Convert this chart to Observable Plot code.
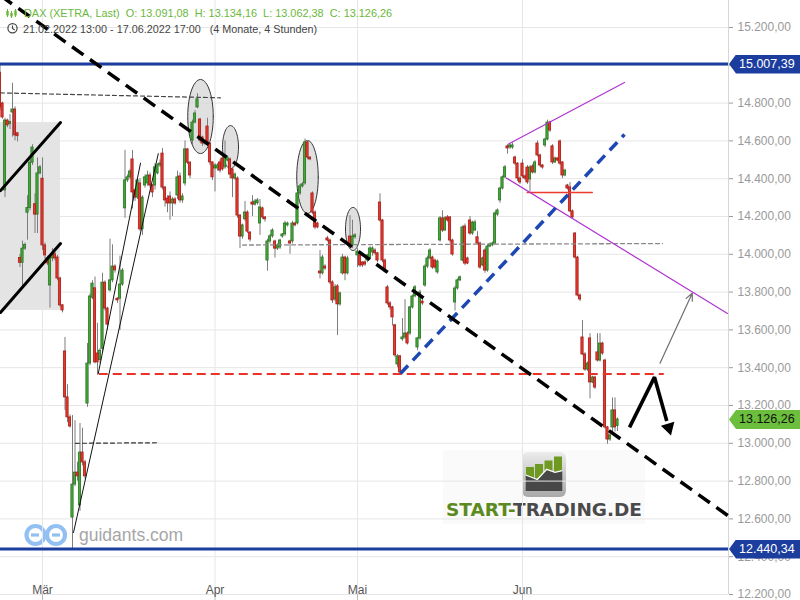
<!DOCTYPE html>
<html>
<head>
<meta charset="utf-8">
<script src="https://cdn.jsdelivr.net/npm/d3@7"></script>
<script src="https://cdn.jsdelivr.net/npm/@observablehq/plot@0.6"></script>
<style>
html,body{margin:0;padding:0;background:#fff;}
#wrap{position:relative;width:800px;height:600px;overflow:hidden;background:#fff;font-family:"Liberation Sans",Arial,sans-serif;}
#under{position:absolute;left:0;top:0;z-index:0;}
#chart{position:absolute;left:0;top:0;z-index:1;}
#icons{position:absolute;left:0;top:0;z-index:2;}
.over{position:absolute;z-index:2;white-space:pre;line-height:14px;}
.tag{position:absolute;z-index:3;left:729px;width:71px;height:19px;line-height:19px;font-size:12.5px;padding-left:10px;box-sizing:border-box;clip-path:polygon(0 50%,7px 0,100% 0,100% 100%,7px 100%);}
</style>
</head>
<body>
<div id="wrap">
<svg id="under" width="800" height="600">
  <defs>
    <linearGradient id="ig" x1="0" y1="0" x2="0" y2="1">
      <stop offset="0" stop-color="#ececec"/><stop offset="1" stop-color="#a9a9a9"/>
    </linearGradient>
  </defs>
  <rect x="443" y="450" width="202" height="74" fill="#fafafa"/>
  <rect x="522" y="452" width="44" height="45" rx="6" fill="url(#ig)"/>
  <rect x="526" y="467" width="8" height="24" fill="#6e9a22"/>
  <rect x="535" y="464" width="8" height="27" fill="#6e9a22"/>
  <rect x="544.5" y="460.5" width="8" height="30.5" fill="#6e9a22"/>
  <rect x="554" y="456.5" width="8" height="34.5" fill="#6e9a22"/>
  <polygon points="525.7,475 537.3,479.5 546.7,469.3 555,472.3 562.3,470.7 562.3,491 525.7,491" fill="#474747"/>
  <polyline points="525.7,475 537.3,479.5 546.7,469.3 555,472.3 562.3,470.7" fill="none" stroke="#fff" stroke-width="1.3"/>
  <text x="446" y="516" font-family="DejaVu Sans" font-weight="bold" font-size="17" textLength="196" lengthAdjust="spacingAndGlyphs"><tspan fill="#5c8a1f">START-</tspan><tspan fill="#4a4a4a">TRADING.DE</tspan></text>
  <g fill="none" stroke="#92c0f2" stroke-width="4.2">
    <circle cx="35.5" cy="535" r="9"/>
    <circle cx="56" cy="535" r="9"/>
  </g>
  <g stroke="#92c0f2" stroke-width="3.2">
    <line x1="31" y1="535" x2="39" y2="535"/>
    <line x1="52" y1="535" x2="60" y2="535"/>
  </g>
  <text x="79" y="541" font-family="Liberation Sans" font-size="17.5" fill="#a6a6a6">guidants.com</text>
</svg>
<div id="chart"></div>
<svg id="icons" width="60" height="40">
  <g fill="#6ab83a" stroke="#6ab83a">
    <line x1="7.5" y1="9" x2="7.5" y2="17" stroke-width="1"/>
    <rect x="6.3" y="11" width="2.4" height="4.5" stroke="none"/>
    <line x1="11.5" y1="11" x2="11.5" y2="18" stroke-width="1"/>
    <rect x="10.3" y="13" width="2.4" height="3.5" stroke="none"/>
    <line x1="15.5" y1="9" x2="15.5" y2="17" stroke-width="1"/>
    <rect x="14.3" y="10.5" width="2.4" height="5" stroke="none"/>
  </g>
  <circle cx="12.5" cy="28.3" r="4.6" fill="none" stroke="#444" stroke-width="1.2"/>
  <polyline points="12.5,25.5 12.5,28.5 14.8,30" fill="none" stroke="#444" stroke-width="1.1"/>
</svg>
<div class="over" id="h1" style="left:24px;top:6px;font-size:10.9px;color:#6ab83a;"></div>
<div class="over" id="h2" style="left:23px;top:21.5px;font-size:10.8px;color:#444;">21.02.2022 13:00 - 17.06.2022 17:00   (4 Monate, 4 Stunden)</div>
<div class="tag" id="tagTop" style="top:54.5px;background:#1b3d9d;color:#fff;"></div>
<div class="tag" id="tagLast" style="top:410px;background:#6cbf3c;color:#111;"></div>
<div class="tag" id="tagBot" style="top:539.5px;background:#1b3d9d;color:#fff;"></div>
</div>
<script>
// ---- 4h candles (XETRA), 21.02.2022 13:00 – 17.06.2022 17:00, bar index = position ----
const opens = [
14961,14798,14338,14708,14690,14750,14766,14640,13980,13955,14030,14220,
14245,14485,14265,14210,14428,14400,14047,13978,13835,13978,14000,13983,
13872,13730,13486,13243,13137,12607,12782,12845,12671,12951,12899,13210,
13422,13770,13820,13475,13440,13500,13850,13713,13809,13862,13935,13765,
13765,13840,14243,14391,14407,14502,14338,14300,14375,14132,14364,14375,
14417,14364,14364,14428,14470,14533,14353,14295,14306,14269,14290,14311,
14412,14285,14375,14555,14485,14602,14697,14777,14713,14618,14586,14676,
14586,14486,14454,14454,14486,14507,14460,14496,14502,14449,14401,14401,
14205,14094,14185,14221,14115,14274,14263,14270,14163,14243,14195,13967,
14068,14095,14068,14030,14036,14094,14105,14153,14068,14068,14163,14163,
14322,14359,14375,14592,14512,14322,14221,14163,13909,13899,13935,14084,
14073,13851,13761,13830,13735,13899,13983,13899,14094,14047,14090,13994,
13994,13957,13957,13967,13978,14010,14020,14005,14274,14179,13967,13825,
13740,13719,13624,13417,13460,13550,13560,13581,13581,13719,13777,13507,
13555,13750,13835,13935,13978,13983,13967,13904,14073,14190,14126,14195,
14195,14073,13745,13819,13862,13967,14147,13978,14179,14110,14126,14090,
14057,13941,14020,13914,14041,14047,14057,14210,14285,14348,14407,14571,
14565,14565,14512,14480,14401,14480,14412,14459,14396,14464,14433,14586,
14523,14470,14576,14607,14697,14571,14486,14507,14597,14486,14417,14364,
14354,14227,14110,13983,13782,13560,13470,13390,13555,13322,13348,13481,
13438,13528,13438,13084,13020,13084,13174,13091.08];
const highs = [
15000,14805,14720,14715,14740,14905,14780,14645,14000,14070,14060,14310,
14510,14580,14320,14510,14470,14510,14060,13990,13990,14030,14010,13995,
13880,13735,13560,13310,13150,13147,13120,12900,13105,13080,12910,13528,
13790,13860,13880,13635,13500,13900,13860,13720,14080,14050,13945,13770,
13990,13925,14550,14420,14450,14549,14345,14400,14400,14310,14420,14440,
14430,14370,14480,14480,14500,14560,14360,14310,14330,14300,14300,14440,
14430,14320,14600,14560,14490,14710,14760,14850,14720,14625,14605,14720,
14590,14490,14480,14480,14500,14520,14600,14520,14510,14460,14430,14410,
14210,14160,14280,14230,14120,14310,14290,14295,14290,14250,14200,14080,
14105,14135,14075,14055,14080,14110,14175,14170,14075,14175,14170,14330,
14370,14380,14610,14600,14515,14330,14230,14170,14020,13995,13945,14095,
14080,13860,13840,13840,13800,14000,13990,13990,14205,14180,14110,14030,
14000,13960,13965,14000,14040,14040,14030,14010,14320,14185,13975,13835,
13750,13725,13630,13470,13465,13660,13760,13590,13725,13785,13835,13560,
13810,13760,13945,13990,14030,13990,13975,13970,14200,14230,14200,14205,
14200,14080,13830,13870,13885,14150,14160,13985,14200,14175,14180,14120,
14065,13985,14030,14050,14060,14065,14225,14240,14355,14415,14470,14580,
14585,14590,14520,14485,14410,14500,14420,14470,14470,14475,14495,14600,
14530,14475,14615,14710,14705,14580,14515,14510,14605,14490,14450,14370,
14380,14235,14115,13990,13790,13650,13480,13430,13580,13355,13355,13580,
13580,13535,13445,13090,13050,13240,13240,13134.16];
const lows = [
14760,14715,14300,14670,14660,14620,14600,14595,13930,13820,14020,14075,
14230,14470,14110,14110,14420,14020,13970,13940,13715,13960,13965,13860,
13720,13690,13174,13110,13080,12440,12770,12800,12640,12880,12810,13190,
13410,13760,13420,13360,13420,13480,13700,13600,13800,13850,13900,13740,
13597,13830,14190,14380,14395,14240,14280,14290,14120,14100,14350,14360,
14350,14300,14340,14420,14460,14340,14250,14220,14180,14200,14260,14290,
14270,14270,14360,14475,14400,14580,14690,14770,14590,14570,14575,14570,
14470,14390,14330,14440,14430,14440,14450,14490,14400,14300,14390,14190,
14030,14080,14175,14110,14065,14200,14255,14260,14100,14185,14170,13910,
14055,14085,13980,14020,14025,14085,14095,14145,14000,14055,14145,14155,
14310,14350,14365,14500,14495,14210,14130,14135,13870,13890,13915,14065,
13840,13740,13750,13570,13725,13890,13860,13890,14040,14030,14080,13930,
13930,13930,13935,13955,13970,13990,13995,13955,14170,13955,13900,13730,
13705,13620,13455,13400,13370,13540,13550,13520,13570,13710,13770,13490,
13545,13730,13825,13925,13970,13920,13920,13895,14065,14115,14120,14170,
14060,13990,13700,13810,13855,13960,13940,13945,14100,14100,14120,14050,
13920,13935,13900,13905,14035,14040,14050,14200,14270,14340,14400,14530,
14555,14555,14470,14385,14370,14400,14390,14370,14330,14425,14425,14515,
14460,14450,14565,14600,14645,14475,14480,14490,14470,14400,14410,14340,
14220,14185,13975,13775,13750,13465,13380,13380,13235,13315,13285,13430,
13430,13465,13075,12995,13010,13050,13060,13062.38];
const closes = [
14777,14724,14708,14682,14700,14766,14629,14625,13955,14030,14050,14245,
14485,14565,14210,14428,14460,14047,13994,13952,13978,14000,13978,13872,
13730,13703,13243,13137,13089,12782,12845,12825,12951,12899,12825,13422,
13777,13845,13428,13428,13490,13850,13713,13628,13862,13935,13915,13756,
13840,13914,14391,14407,14438,14327,14300,14391,14132,14300,14407,14417,
14364,14327,14460,14470,14480,14353,14285,14269,14269,14290,14269,14407,
14285,14306,14555,14485,14417,14697,14745,14820,14602,14586,14597,14586,
14486,14407,14470,14470,14443,14449,14512,14512,14422,14401,14422,14205,
14094,14153,14221,14120,14078,14263,14279,14285,14248,14195,14185,14068,
14095,14126,14030,14047,14073,14105,14163,14163,14057,14163,14153,14322,
14359,14370,14592,14512,14502,14221,14142,14142,13899,13983,13925,14073,
13851,13756,13825,13735,13793,13983,13899,13978,14047,14094,14100,14015,
13941,13941,13946,13994,14031,14031,14005,13967,14179,13967,13909,13740,
13719,13666,13465,13460,13375,13560,13581,13528,13719,13777,13825,13555,
13798,13740,13935,13978,14020,13930,13930,13962,14190,14126,14190,14179,
14073,13999,13819,13862,13878,14142,13951,13951,14110,14168,14168,14057,
13930,13978,13914,14041,14052,14057,14216,14232,14348,14407,14460,14560,
14576,14576,14480,14401,14380,14412,14401,14380,14459,14433,14486,14523,
14470,14459,14607,14697,14655,14486,14507,14496,14480,14417,14443,14348,
14227,14195,13983,13782,13761,13470,13390,13422,13322,13348,13295,13438,
13528,13475,13084,13020,13042,13174,13084,13126.26];

// axis ticks
const priceTicks = d3.range(12200, 15201, 200);
const hiddenTick = 15000; // covered by the 15.007,39 marker
const monthIdx = [17, 86, 143, 209];
const monthLabels = ["Mär", "Apr", "Mai", "Jun"];

// horizontal levels
const blueLevels = [15007.39, 12440.34];

// drawings: [bar index, price]
const downTrend  = [[0.2, 15369], [291.4, 12615]];
const topDotted  = [[0.2, 14854], [88.2, 14828]];
const midDotted  = [[97, 14049], [265, 14057]];
const lowDotted  = [[30.2, 13000], [63.5, 13003]];
const redSupport = [[39.5, 13367], [265.5, 13367]];
const redShort   = [[210.9, 14327], [236.9, 14327]];
const blueUp     = [[160.2, 13369], [249.8, 14634]];
const thinLong   = [[29.4, 12528], [63.3, 14532]];
const thinShort  = [[39.3, 13369], [56.2, 14482]];
const channelTop = [[0.2, 14337], [24.2, 14697]];
const channelBot = [[0.2, 13692], [24.2, 14057]];
const shadeBox   = [[0.2, 24.2], [13703, 14697]];
const purpleTop  = [[203.4, 14584], [249.8, 14909]];
const purpleBot  = [[202.6, 14403], [291, 13687]];
const grayArrow  = [[264, 13424], [276.9, 13794]];
const zigzag     = [[251.8, 13084], [261.8, 13350], [266.7, 13118]];
const arrowHead  = [[267.5, 13083]];
// ellipses: centre index, centre price, radius in bars, radius in points
const ellCx = [80.2, 92.2, 123, 141.2];
const ellCy = [14729, 14567, 14409, 14134];
const ellRx = [5.1, 3.2, 4.3, 3.0];
const ellRy = [196, 114, 193, 114];

const loc = d3.formatLocale({decimal: ",", thousands: ".", grouping: [3], currency: ["", ""]});
const fmtDE = loc.format(",.2f");

const candles = opens.map((o, i) => ({i, o, h: highs[i], l: lows[i], c: closes[i]}));
const ups = candles.filter(d => d.c >= d.o);
const downs = candles.filter(d => d.c < d.o);

const ellPts = [];
ellCx.forEach((cx, k) => {
  for (let t = 0; t <= 60; t++) {
    const a = 2 * Math.PI * t / 60;
    ellPts.push({k, x: cx + ellRx[k] * Math.cos(a), y: ellCy[k] + ellRy[k] * Math.sin(a)});
  }
});

const P = d => d[0], Q = d => d[1];
const seg = (data, opts) => Plot.line(data, {x: P, y: Q, ...opts});

const chart = Plot.plot({
  width: 800, height: 600,
  marginLeft: 0, marginRight: 72, marginTop: 0, marginBottom: 6,
  style: {background: "transparent", fontFamily: "'Liberation Sans', Arial, sans-serif"},
  x: {type: "linear", domain: [0.2, 291.4], axis: null},
  y: {type: "linear", domain: [12200, 15342.86], axis: null},
  marks: [
    Plot.gridY(priceTicks, {stroke: "#e6e6e6", strokeOpacity: 1}),
    Plot.gridX(monthIdx, {stroke: "#e6e6e6", strokeOpacity: 1}),
    Plot.ruleX([291.4], {stroke: "#d6d6d6"}),
    Plot.rect([shadeBox], {x1: d => d[0][0], x2: d => d[0][1], y1: d => d[1][0], y2: d => d[1][1], fill: "#e4e4e4"}),
    Plot.line(ellPts, {x: "x", y: "y", z: "k", fill: "#d6d6d6", fillOpacity: 0.75, stroke: "#333", strokeWidth: 1}),
    Plot.ruleX(candles, {x: "i", y1: "l", y2: "h", stroke: "#7d7d7d", strokeWidth: 1}),
    Plot.rect(ups, {x1: d => d.i - 0.45, x2: d => d.i + 0.45, y1: "o", y2: "c", fill: "#43a83a", stroke: "#2c7424", strokeWidth: 0.8}),
    Plot.rect(downs, {x1: d => d.i - 0.45, x2: d => d.i + 0.45, y1: "o", y2: "c", fill: "#e5392f", stroke: "#a61d17", strokeWidth: 0.8}),
    Plot.ruleY(blueLevels, {stroke: "#1b3d9d", strokeWidth: 3}),
    seg(topDotted, {stroke: "#444", strokeWidth: 1.2, strokeDasharray: "4,3"}),
    seg(midDotted, {stroke: "#888", strokeWidth: 1.3, strokeDasharray: "4,3"}),
    seg(lowDotted, {stroke: "#333", strokeWidth: 1.2, strokeDasharray: "4,3"}),
    seg(redSupport, {stroke: "#e8322a", strokeWidth: 2, strokeDasharray: "9,5", strokeLinecap: "butt"}),
    seg(redShort, {stroke: "#f03a2e", strokeWidth: 1.5}),
    seg(thinLong, {stroke: "#111", strokeWidth: 1}),
    seg(thinShort, {stroke: "#111", strokeWidth: 1}),
    seg(channelTop, {stroke: "#000", strokeWidth: 3}),
    seg(channelBot, {stroke: "#000", strokeWidth: 3}),
    seg(purpleTop, {stroke: "#b133d1", strokeWidth: 1.2}),
    seg(purpleBot, {stroke: "#b133d1", strokeWidth: 1.2}),
    seg(blueUp, {stroke: "#1d47b3", strokeWidth: 3.5, strokeDasharray: "11,7", strokeLinecap: "butt"}),
    seg(downTrend, {stroke: "#000", strokeWidth: 3.5, strokeDasharray: "14,8", strokeLinecap: "butt"}),
    Plot.arrow([grayArrow], {x1: d => d[0][0], y1: d => d[0][1], x2: d => d[1][0], y2: d => d[1][1], stroke: "#6e6e6e", strokeWidth: 1.2, headLength: 10, headAngle: 50}),
    seg(zigzag, {stroke: "#000", strokeWidth: 3.6, strokeLinejoin: "miter", strokeLinecap: "butt"}),
    Plot.dot(arrowHead, {x: P, y: Q, symbol: "triangle", r: 5.2, fill: "#000", stroke: "none", rotate: 164}),
    Plot.axisY(priceTicks, {anchor: "right", tickSize: 4, tickPadding: 5, tickFormat: d => d === hiddenTick ? "" : fmtDE(d), fontSize: 12, color: "#9a9a9a", label: null}),
    Plot.axisX(monthIdx, {anchor: "bottom", tickSize: 6, tickFormat: () => "", color: "#bbb", label: null}),
    Plot.text(monthIdx, {x: d => d, frameAnchor: "bottom", text: (d, i) => monthLabels[i], lineAnchor: "bottom", dy: -1, fontSize: 12, fill: "#555"})
  ]
});
document.getElementById("chart").appendChild(chart);

const last = candles[candles.length - 1];
document.getElementById("h1").textContent =
  `DAX (XETRA, Last)  O: ${fmtDE(last.o)}  H: ${fmtDE(last.h)}  L: ${fmtDE(last.l)}  C: ${fmtDE(last.c)}`;
document.getElementById("tagTop").textContent = fmtDE(blueLevels[0]);
document.getElementById("tagBot").textContent = fmtDE(blueLevels[1]);
document.getElementById("tagLast").textContent = fmtDE(last.c);
</script>
</body>
</html>
